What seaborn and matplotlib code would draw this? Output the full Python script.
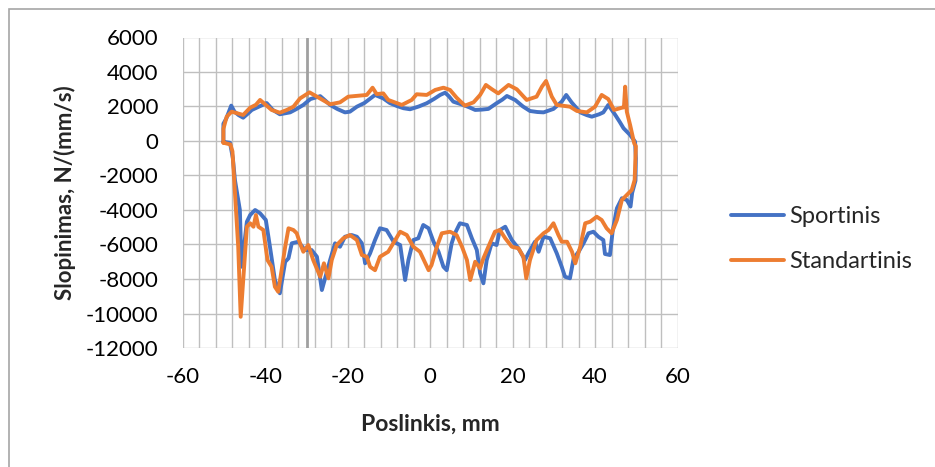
import numpy as np
import pandas as pd
import matplotlib
matplotlib.use("Agg")
import matplotlib.pyplot as plt
from matplotlib.patches import Rectangle
from matplotlib.ticker import MultipleLocator
import seaborn as sns

# Damping loop: displacement (mm) and damping force N/(mm/s), traced in measurement order
sport_x = [-50.2, -50.2, -49.5, -48.3, -47.5, -46.5, -45.4, -44.2, -43.3, -41.5, -39.7, -38.2,
           -36.5, -34.0, -32.5, -30.8, -29.1, -26.7, -25.5, -24.3, -22.5, -20.7, -19.5, -17.8,
           -16.0, -15.0, -13.4, -11.4, -9.8, -8.1, -6.5, -4.9, -2.8, -0.85, 1.0, 2.4, 3.6, 4.5,
           5.6, 8.0, 9.5, 10.9, 12.5, 14.1, 16.1, 17.5, 18.6, 20.6, 22.5, 24.2, 26.0, 27.5, 29.9,
           31.9, 33.0, 34.3, 36.4, 38.0, 39.2, 41.0, 42.0, 43.2, 44.9, 46.0, 46.9, 48.5, 49.7,
           49.9, 49.8, 49.0, 48.6, 47.7, 46.5, 45.3, 44.3, 43.6, 42.4, 42.0, 40.8, 39.6, 38.4,
           37.2, 36.0, 34.8, 33.9, 32.7, 31.9, 30.7, 29.1, 27.5, 26.3, 25.4, 23.8, 23.0, 21.4,
           19.8, 18.2, 16.9, 16.1, 14.9, 13.7, 12.9, 12.1, 11.3, 10.1, 8.9, 7.2, 6.0, 5.2, 4.0,
           3.2, 2.0, 0.8, -0.4, -1.7, -2.9, -4.1, -5.3, -6.1, -7.3, -8.9, -10.6, -12.2, -13.4,
           -14.6, -15.8, -16.6, -17.8, -19.1, -20.7, -21.9, -23.1, -24.3, -26.3, -27.5, -28.8,
           -30.4, -32.0, -33.6, -34.4, -35.2, -36.5, -37.7, -38.9, -39.9, -41.3, -42.5, -43.7,
           -44.5, -45.2, -45.8, -46.2, -46.6, -47.4, -47.9, -48.6, -50.2]
sport_y = [-50, 1000, 1300, 2050, 1700, 1500, 1350, 1600, 1800, 2000, 2200, 1800,
           1550, 1660, 1850, 2090, 2430, 2600, 2350, 2090, 1850, 1660, 1700, 1990,
           2200, 2380, 2670, 2470, 2200, 2030, 1900, 1840, 2000, 2190, 2450, 2670, 2800, 2600,
           2280, 2090, 1950, 1800, 1820, 1860, 2190, 2400, 2610, 2380, 2000, 1740, 1680, 1660, 1860,
           2280, 2670, 2240, 1660, 1500, 1410, 1550, 1660, 2090, 1510, 1100, 740, 350, -40,
           -1000, -2300, -3000, -3800, -3420, -3320, -3900, -5160, -6610, -6550, -5740, -5550, -5260, -5350,
           -5930, -6420, -6800, -7960, -7870, -7290, -6510, -5640, -5550, -6420, -5840, -6510, -6900, -6220,
           -5740, -4970, -5160, -6030, -5930, -6900, -8250, -7670, -6320, -5640, -4870, -4770, -5350, -5930, -7490,
           -7290, -6420, -5840, -5060, -4870, -5640, -5740, -6900, -8060, -6030, -5840, -5160, -5060, -5740,
           -6510, -7090, -5930, -5550, -5450, -5550, -6130, -5930, -6900, -8640, -6710, -6320,
           -6320, -5840, -5930, -6800, -7000, -8830, -8060, -6130, -4580, -4190, -4000, -4290,
           -4680, -6130, -7290, -4000, -3420, -2260, -1000, -100, -50]

std_x = [-50.2, -50.2, -49.4, -48.2, -45.4, -43.7, -42.3, -41.3, -40.1, -38.5, -36.5, -34.8,
         -33.2, -31.6, -29.3, -27.5, -24.3, -21.9, -19.9, -15.4, -14.0, -13.0, -11.4, -10.2,
         -6.9, -4.5, -3.3, -0.85, 1.2, 3.2, 4.8, 6.4, 8.4, 10.5, 12.1, 13.5, 14.9, 16.5, 19.0,
         21.0, 23.4, 25.8, 27.1, 28.1, 29.5, 30.7, 33.9, 35.6, 38.0, 40.0, 41.6, 43.2, 44.6,
         46.5, 47.0, 47.3, 47.7, 48.5, 49.5, 49.9,
         49.6, 48.9, 48.1, 46.5, 45.3, 44.0, 42.8, 41.6, 40.4, 38.8, 37.6, 36.4, 35.2, 34.4,
         33.2, 31.9, 31.1, 29.9, 28.7, 27.5, 25.8, 24.2, 23.3, 22.6, 21.4, 19.8, 18.2, 16.9,
         15.7, 14.1, 12.9, 12.1, 10.9, 9.7, 8.9, 7.7, 6.4, 4.8, 2.8, 1.6, 0.3, -0.4, -2.5,
         -4.1, -5.7, -7.3, -8.5, -10.2, -12.2, -13.4, -14.6, -15.4, -16.6, -17.8, -19.5, -21.1,
         -22.7, -23.9, -24.7, -25.8, -26.7, -28.4, -29.6, -30.8, -31.6, -32.4, -33.2, -34.4,
         -35.2, -36.0, -36.9, -37.7, -38.5, -39.5, -40.5, -41.7, -42.3, -42.9, -43.7, -44.5,
         -45.0, -45.4, -46.0, -46.6, -47.1, -47.6, -48.0, -48.5, -50.2]
std_y = [-100, 700, 1410, 1700, 1510, 1930, 2100, 2380, 2130, 1800, 1640, 1800,
         1990, 2470, 2820, 2570, 2130, 2240, 2570, 2670, 3090, 2720, 2760, 2380,
         2090, 2380, 2710, 2670, 2960, 3090, 2960, 2510, 2050, 2240, 2670, 3250, 3010, 2760, 3250,
         3000, 2380, 2570, 3150, 3480, 2570, 2090, 1990, 1740, 1660, 1990, 2670, 2430, 1800,
         1930, 1950, 3150, 1700, 930, -140, -300,
         -2260, -2840, -3030, -3420, -4580, -5350, -5060, -4580, -4390, -4680, -4770, -6130, -7090, -6420,
         -5840, -5840, -5450, -4770, -5160, -5350, -5740, -6900, -7960, -6710, -6220, -6130, -5640, -5160,
         -5260, -6130, -6800, -7380, -7000, -8060, -6900, -6130, -5450, -5260, -5350, -6130, -7200, -7490, -6420,
         -6130, -5450, -5260, -5740, -6420, -6710, -7490, -7290, -6710, -6610, -5740, -5450, -5640,
         -6030, -6900, -7960, -7090, -7870, -6900, -6030, -6420, -5930, -5350, -5160, -5060,
         -6130, -7380, -8740, -8450, -7290, -6900, -5160, -4970, -4290, -4970, -4770, -4970,
         -6710, -8060, -10190, -6130, -4190, -2260, -600, -200, -100]

series_names = ["Sportinis", "Standartinis"]
series_colors = ["#4472C4", "#ED7D31"]
x_ticks = [-60, -40, -20, 0, 20, 40, 60]
y_ticks = [-12000, -10000, -8000, -6000, -4000, -2000, 0, 2000, 4000, 6000]
marker_x = -30

df = pd.concat([
    pd.DataFrame({"Poslinkis": sport_x, "Slopinimas": sport_y, "Serija": series_names[0]}),
    pd.DataFrame({"Poslinkis": std_x, "Slopinimas": std_y, "Serija": series_names[1]}),
], ignore_index=True)

sns.set_theme(style="white")
plt.rcParams["font.family"] = ["Lato", "DejaVu Sans"]
plt.rcParams["axes.unicode_minus"] = False

fig = plt.figure(figsize=(9.35, 4.67), dpi=100)
ax = fig.add_axes([183 / 935, 1 - 348 / 467, (677.5 - 183) / 935, (348 - 37.5) / 467])

sns.lineplot(data=df, x="Poslinkis", y="Slopinimas", hue="Serija", sort=False,
             estimator=None, palette=series_colors, linewidth=2.8, ax=ax, legend=True,
             zorder=3)

ax.set_xlim(x_ticks[0], x_ticks[-1])
ax.set_ylim(y_ticks[0], y_ticks[-1])
ax.set_xticks(x_ticks)
ax.set_yticks(y_ticks)
ax.xaxis.set_minor_locator(MultipleLocator(4))
ax.grid(True, which="both", axis="x", color="#BFBFBF", linewidth=1.0, zorder=0)
ax.grid(True, which="major", axis="y", color="#BFBFBF", linewidth=1.0, zorder=0)
ax.axvline(marker_x, color="#A0A0A0", linewidth=2.0, zorder=1)
for s in ax.spines.values():
    s.set_visible(False)
ax.tick_params(which="both", length=0)
ax.tick_params(axis="y", pad=18, labelsize=16, labelcolor="black")
ax.tick_params(axis="x", pad=14, labelsize=16, labelcolor="black")

ax.set_xlabel("Poslinkis, mm", fontsize=16.5, fontweight="bold", labelpad=19)
ax.set_ylabel("Slopinimas, N/(mm/s)", fontsize=16, fontweight="bold", labelpad=7)

handles, labels = ax.get_legend_handles_labels()
ax.get_legend().remove()
fig.legend(handles, labels, loc="center left", bbox_to_anchor=(731 / 935, 1 - 239 / 467),
           frameon=False, fontsize=17, handlelength=2.25, handletextpad=0.2,
           labelspacing=1.0, borderpad=0, borderaxespad=0)

# Chart border (top and left edges visible)
fig.patches.append(Rectangle((8.5 / 935, -0.2), 1.5, 1.2 - 8.5 / 467, transform=fig.transFigure,
                             fill=False, edgecolor="#A6A6A6", linewidth=1.2))

fig.savefig("out.png", dpi=100)
